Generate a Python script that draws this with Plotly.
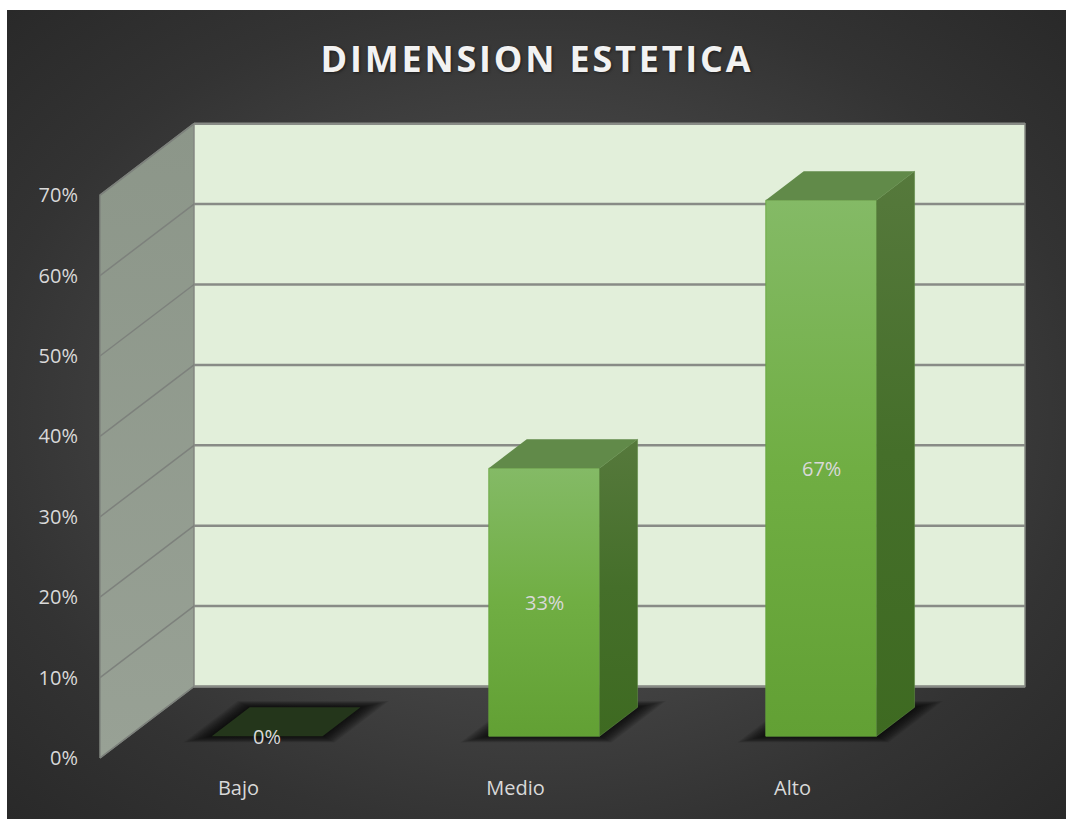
import plotly.graph_objects as go

TITLE = "DIMENSION ESTETICA"
categories = ["Bajo", "Medio", "Alto"]
values = [0.0, 33.33, 66.67]
y_ticks = [0, 10, 20, 30, 40, 50, 60, 70]

W, H = 1066, 819
CARD_LEFT, CARD_TOP = 7, 10         # white strip left and above the dark card
CAT_PX, PCT_PX = 277.0, 8.04        # pixels per category slot / per percentage point
ORIGIN_PX = (100.0, 758.0)          # where the front floor corner sits on the page
DEPTH_X, DEPTH_Y = 94 / CAT_PX, 71.5 / PCT_PX   # oblique shift of the full floor depth
BAR_W, BAR_D0, BAR_D1 = 0.4, 0.305, 0.709
Y_TOP = y_ticks[-1]
TEXT = "#d9d9d9"
LABEL_SIZE = 20


def px_x(px):
    return (px - ORIGIN_PX[0]) / CAT_PX


def px_y(py):
    return (ORIGIN_PX[1] - py) / PCT_PX


def proj(x, v, d):
    """Oblique projection of (category position, height, depth) on the axes."""
    return x + d * DEPTH_X, v + d * DEPTH_Y


def poly(points):
    pts = [proj(*p) for p in points] + [proj(*points[0])]
    return [p[0] for p in pts], [p[1] for p in pts]


def face(points, color=None, gradient=None, line=None):
    xs, ys = poly(points)
    kw = dict(x=xs, y=ys, mode="lines", fill="toself", hoverinfo="skip", showlegend=False,
              line=dict(width=line[1], color=line[0]) if line else dict(width=0))
    if gradient:
        kw["fillgradient"] = gradient
    else:
        kw["fillcolor"] = color
    return go.Scatter(**kw)


fig = go.Figure()

# card background: the radial fill is laid on an oversized rectangle, clipped by the subplot,
# so that the sheen reaches the corners instead of the edge midpoints
cx, cy = px_x((CARD_LEFT + W) / 2), px_y((CARD_TOP + H) / 2)
rx, ry = 1.45 * (W - CARD_LEFT) / 2 / CAT_PX, 1.45 * (H - CARD_TOP) / 2 / PCT_PX
fig.add_trace(go.Scatter(
    x=[cx - rx, cx + rx, cx + rx, cx - rx, cx - rx],
    y=[cy - ry, cy - ry, cy + ry, cy + ry, cy - ry],
    mode="lines", fill="toself", line=dict(width=0), hoverinfo="skip", showlegend=False,
    fillgradient=dict(type="radial", colorscale=[[0, "#4f4f4f"], [0.45, "#434343"], [0.72, "#333333"], [1, "#282828"]]),
))

# side wall and back wall
fig.add_trace(face([(0, 0, 0), (0, 0, 1), (0, Y_TOP, 1), (0, Y_TOP, 0)],
                   gradient=dict(type="vertical", colorscale=[[0, "#98a195"], [1, "#8c9689"]]),
                   line=("#80857f", 1.5)))
fig.add_trace(face([(0, 0, 1), (3, 0, 1), (3, Y_TOP, 1), (0, Y_TOP, 1)], color="#e2efda",
                   line=("#868b84", 1.5)))

# gridlines on both walls
gx, gy, sx, sy = [], [], [], []
for t in y_ticks:
    x0, y0 = proj(0, t, 1)
    x1, y1 = proj(3, t, 1)
    gx += [x0, x1, None]
    gy += [y0, y1, None]
    x2, y2 = proj(0, t, 0)
    sx += [x2, x0, None]
    sy += [y2, y0, None]
fig.add_trace(go.Scatter(x=sx, y=sy, mode="lines", line=dict(color="#7d817c", width=1.5),
                         hoverinfo="skip", showlegend=False))
fig.add_trace(go.Scatter(x=gx, y=gy, mode="lines", line=dict(color="#888b86", width=2.5),
                         hoverinfo="skip", showlegend=False))

# soft floor shadows, then the three bars
for i, v in enumerate(values):
    left, right = i + 0.5 - BAR_W / 2, i + 0.5 + BAR_W / 2
    for step in range(14, 0, -1):
        sh_x, sh_d = step * 1.45 / CAT_PX, step * 0.0062
        fig.add_trace(face([(left - sh_x, 0, BAR_D0 - sh_d), (right + sh_x, 0, BAR_D0 - sh_d),
                            (right + sh_x, 0, BAR_D1 + sh_d), (left - sh_x, 0, BAR_D1 + sh_d)],
                           color="rgba(0,0,0,0.07)"))
    if v > 0:
        fig.add_trace(face([(left, 0, BAR_D0), (right, 0, BAR_D0), (right, v, BAR_D0), (left, v, BAR_D0)],
                           gradient=dict(type="vertical", colorscale=[
                               [0, "#62a034"], [0.5, "#70ae43"], [1, "#84ba66"]]),
                           line=("#66a33c", 0.8)))
        fig.add_trace(face([(right, 0, BAR_D0), (right, 0, BAR_D1), (right, v, BAR_D1), (right, v, BAR_D0)],
                           gradient=dict(type="vertical", colorscale=[
                               [0, "#3e6a21"], [0.5, "#456f2a"], [1, "#56793c"]]),
                           line=("#5f8a45", 0.6)))
    top_color = "#618a49" if v > 0 else "#24361b"
    fig.add_trace(face([(left, v, BAR_D0), (right, v, BAR_D0), (right, v, BAR_D1), (left, v, BAR_D1)],
                       color=top_color))

# value labels in the middle of each front face
annotations = []
for i, v in enumerate(values):
    lx, ly = proj(i + 0.5, v / 2, BAR_D0)
    annotations.append(dict(x=lx, y=ly, text=f"{v:.0f}%", showarrow=False, yshift=0,
                            font=dict(family="Open Sans", size=LABEL_SIZE, color=TEXT)))

card_x0, card_x1 = px_x(CARD_LEFT), px_x(W)
fig.update_layout(
    width=W, height=H, autosize=False,
    margin=dict(l=0, r=0, t=0, b=0),
    paper_bgcolor="white", plot_bgcolor="rgba(0,0,0,0)",
    showlegend=False,
    annotations=annotations,
    title=dict(text=TITLE, x=537 / W, xanchor="center", y=1 - 59 / H, yanchor="middle",
               font=dict(family="Open Sans", size=36, color="#f2f2f2", weight="bold",
                         shadow="1px 1px 3px rgba(0,0,0,0.5)")),
    xaxis=dict(domain=[CARD_LEFT / W, 1], range=[card_x0, card_x1], anchor="free",
               position=(H - ORIGIN_PX[1]) / H,
               tickmode="array", tickvals=[i + 0.5 for i in range(len(categories))], ticktext=categories,
               ticks="outside", ticklen=12, tickcolor="rgba(0,0,0,0)",
               tickfont=dict(family="Open Sans", size=LABEL_SIZE, color=TEXT),
               showgrid=False, zeroline=False, showline=False),
    yaxis=dict(domain=[0, 1 - CARD_TOP / H], range=[px_y(H), px_y(CARD_TOP)], anchor="free",
               position=ORIGIN_PX[0] / W,
               tickmode="array", tickvals=y_ticks, ticktext=[f"{t}%" for t in y_ticks],
               ticks="outside", ticklen=18, tickcolor="rgba(0,0,0,0)",
               tickfont=dict(family="Open Sans", size=LABEL_SIZE, color=TEXT),
               showgrid=False, zeroline=False, showline=False),
)

# the title is tracked out a little; Plotly has no letter-spacing attribute of its own
fig.write_html("out.html", post_script="""
document.querySelectorAll('.gtitle').forEach(function (el) {
    el.style.letterSpacing = '2.8px';
});
""")
